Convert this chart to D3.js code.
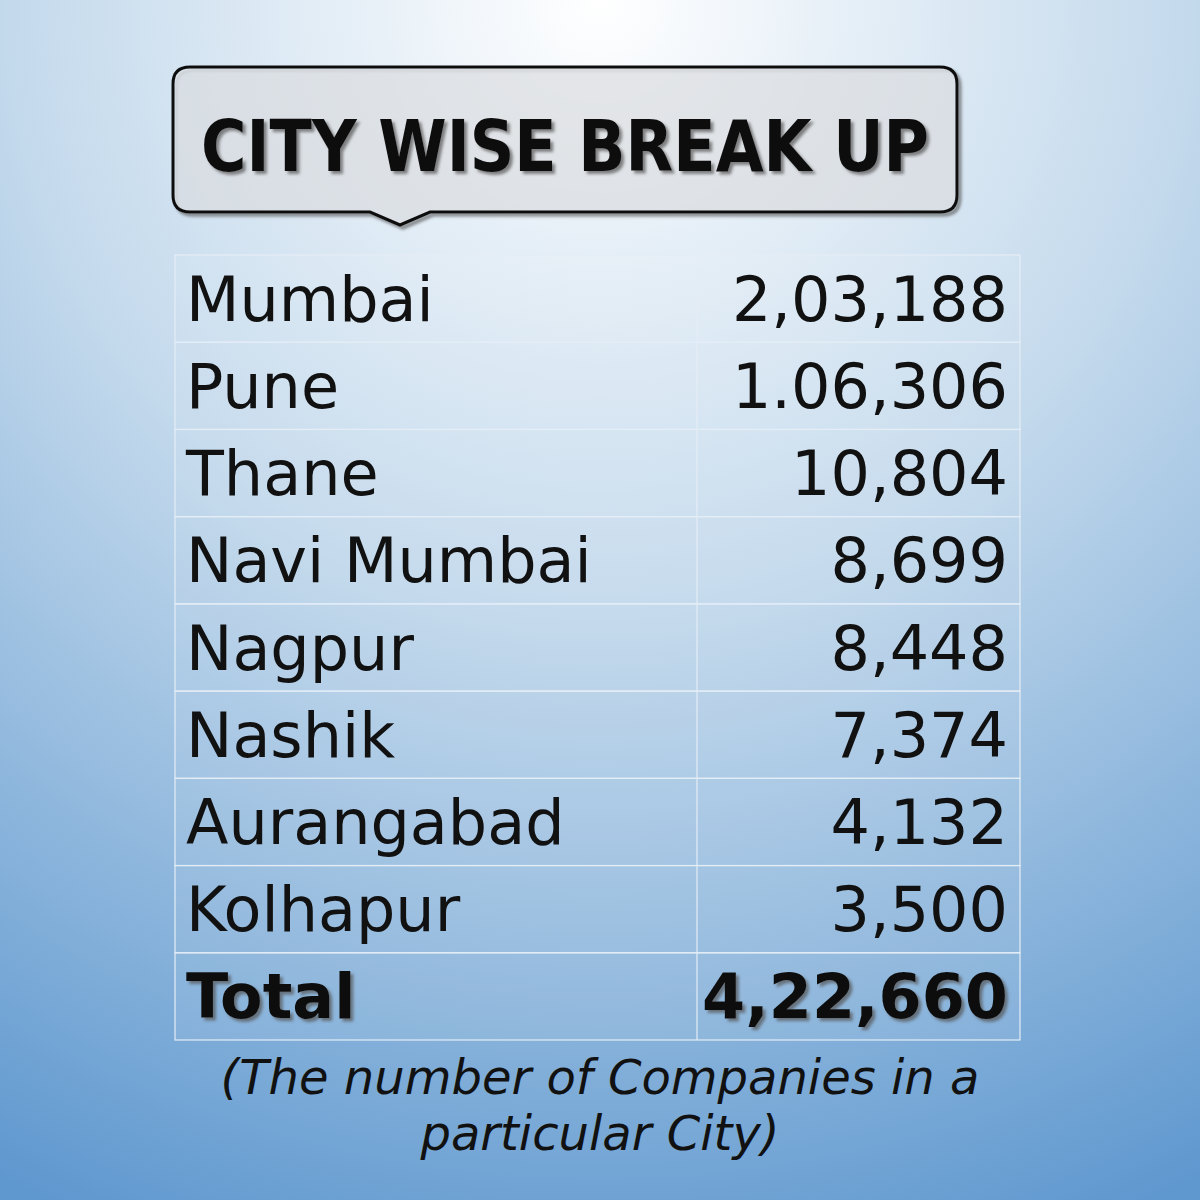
<!DOCTYPE html>
<html><head><meta charset="utf-8">
<script src="https://cdn.jsdelivr.net/npm/d3@7"></script>
<style>body{margin:0}svg{display:block}</style>
</head><body>
<div id="chart"></div>
<script>
const cities = ["Mumbai","Pune","Thane","Navi Mumbai","Nagpur","Nashik","Aurangabad","Kolhapur","Total"];
const counts = ["2,03,188","1.06,306","10,804","8,699","8,448","7,374","4,132","3,500","4,22,660"];
const title = "CITY WISE BREAK UP";
const caption = ["(The number of Companies in a","particular City)"];

const svg = d3.select("#chart").append("svg").attr("width",1200).attr("height",1200);
const defs = svg.append("defs");
const g = defs.append("radialGradient").attr("id","bg")
    .attr("cx","50%").attr("cy","0%").attr("r","110%").attr("gradientUnits","objectBoundingBox");
g.append("stop").attr("offset","0%").attr("stop-color","#ffffff");
g.append("stop").attr("offset","45%").attr("stop-color","#c3d9ec");
g.append("stop").attr("offset","100%").attr("stop-color","#5f98cf");
const f = defs.append("filter").attr("id","sh");
f.append("feDropShadow").attr("dx",3).attr("dy",3).attr("stdDeviation",1.5).attr("flood-color","#555").attr("flood-opacity",0.7);

svg.append("rect").attr("width",1200).attr("height",1200).attr("fill","url(#bg)");

// title callout
svg.append("path")
    .attr("d","M190,67 H940 Q957,67 957,84 V195 Q957,212 940,212 H430 L400,225 L370,212 H190 Q173,212 173,195 V84 Q173,67 190,67 Z")
    .attr("fill","#f5f8fb").attr("fill-opacity",0.5).attr("stroke","#111").attr("stroke-width",3)
    .attr("filter","url(#sh)");
svg.append("text").attr("x",565).attr("y",171).attr("text-anchor","middle")
    .attr("font-family","DejaVu Sans Condensed, DejaVu Sans").attr("font-weight","bold")
    .attr("font-size",72).attr("textLength",728).attr("lengthAdjust","spacingAndGlyphs")
    .attr("fill","#111").attr("filter","url(#sh)").text(title);

// table
const y = d3.scaleBand().domain(cities).range([255,1040]);
const x0 = 175, x1 = 697, x2 = 1020;
const rows = svg.append("g").selectAll("g").data(cities).join("g");
rows.append("rect").attr("x",x0).attr("y",d=>y(d)).attr("width",x2-x0).attr("height",y.bandwidth())
    .attr("fill","#ffffff").attr("fill-opacity",0.08).attr("stroke","#e4edf6").attr("stroke-width",1.2);
rows.append("line").attr("x1",x1).attr("x2",x1).attr("y1",d=>y(d)).attr("y2",d=>y(d)+y.bandwidth())
    .attr("stroke","#e4edf6").attr("stroke-width",1.2);
rows.append("text").attr("x",186).attr("y",d=>y(d)+y.bandwidth()/2+22)
    .attr("font-family","DejaVu Sans").attr("font-size",62)
    .attr("font-weight",d=>d==="Total"?"bold":"normal")
    .attr("filter",d=>d==="Total"?"url(#sh)":null)
    .attr("fill","#111").text(d=>d);
rows.append("text").attr("x",1008).attr("y",d=>y(d)+y.bandwidth()/2+22).attr("text-anchor","end")
    .attr("font-family","DejaVu Sans").attr("font-size",62)
    .attr("font-weight",(d,i)=>d==="Total"?"bold":"normal")
    .attr("filter",d=>d==="Total"?"url(#sh)":null)
    .attr("fill","#111").text((d,i)=>counts[i]);

svg.append("g").selectAll("text").data(caption).join("text")
    .attr("x",600).attr("y",(d,i)=>1094+i*56).attr("text-anchor","middle")
    .attr("font-family","DejaVu Sans").attr("font-style","italic").attr("font-size",48)
    .attr("fill","#111").text(d=>d);
</script>
</body></html>
